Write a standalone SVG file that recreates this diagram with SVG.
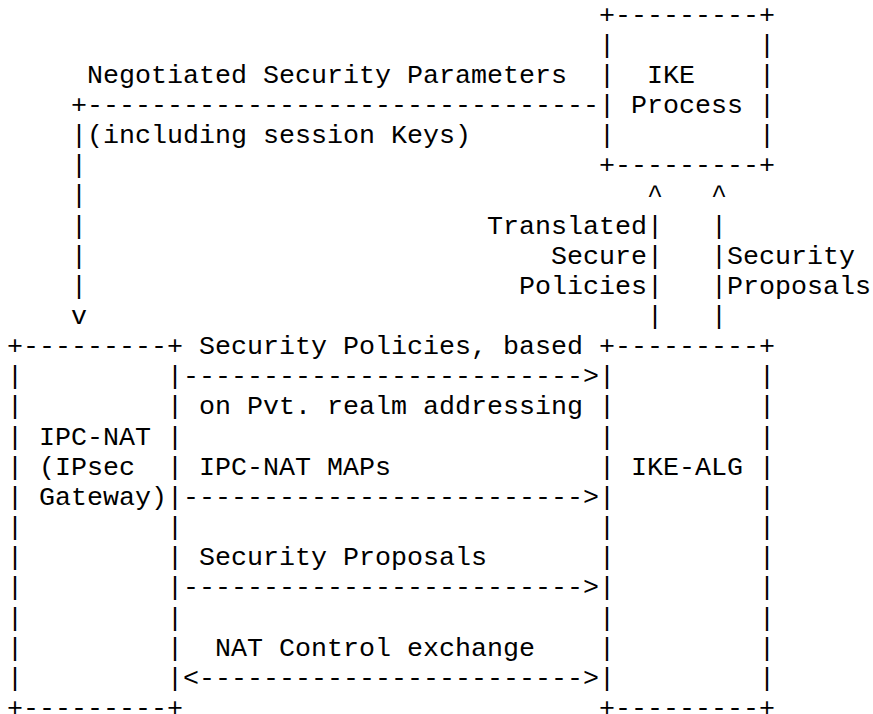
<svg xmlns="http://www.w3.org/2000/svg" width="873" height="714" viewBox="0 0 873 714" xml:space="preserve">
<style>
text { font-family: "Liberation Mono", "Courier New", monospace; font-size: 26.67px; fill: #000; white-space: pre; }
</style>
<rect width="873" height="714" fill="#fff"/>
<g id="ike-process">
<text x="599" y="22.5">+---------+</text>
<text x="599" y="52.65">|</text><text x="759" y="52.65">|</text>
<text x="599" y="82.8">|</text><text x="647" y="82.8">IKE</text><text x="759" y="82.8">|</text>
<text x="599" y="112.95">|</text><text x="631" y="112.95">Process</text><text x="759" y="112.95">|</text>
<text x="599" y="143.1">|</text><text x="759" y="143.1">|</text>
<text x="599" y="173.25">+---------+</text>
</g>
<g id="ipc-nat">
<text x="7" y="354.15">+---------+</text>
<text x="7" y="384.3">|</text><text x="167" y="384.3">|</text>
<text x="7" y="414.45">|</text><text x="167" y="414.45">|</text>
<text x="7" y="444.6">|</text><text x="39" y="444.6">IPC-NAT</text><text x="167" y="444.6">|</text>
<text x="7" y="474.75">|</text><text x="39" y="474.75">(IPsec</text><text x="167" y="474.75">|</text>
<text x="7" y="504.9">|</text><text x="39" y="504.9">Gateway)</text><text x="167" y="504.9">|</text>
<text x="7" y="535.05">|</text><text x="167" y="535.05">|</text>
<text x="7" y="565.2">|</text><text x="167" y="565.2">|</text>
<text x="7" y="595.35">|</text><text x="167" y="595.35">|</text>
<text x="7" y="625.5">|</text><text x="167" y="625.5">|</text>
<text x="7" y="655.65">|</text><text x="167" y="655.65">|</text>
<text x="7" y="685.8">|</text><text x="167" y="685.8">|</text>
<text x="7" y="715.95">+---------+</text>
</g>
<g id="ike-alg">
<text x="599" y="354.15">+---------+</text>
<text x="599" y="384.3">|</text><text x="759" y="384.3">|</text>
<text x="599" y="414.45">|</text><text x="759" y="414.45">|</text>
<text x="599" y="444.6">|</text><text x="759" y="444.6">|</text>
<text x="599" y="474.75">|</text><text x="631" y="474.75">IKE-ALG</text><text x="759" y="474.75">|</text>
<text x="599" y="504.9">|</text><text x="759" y="504.9">|</text>
<text x="599" y="535.05">|</text><text x="759" y="535.05">|</text>
<text x="599" y="565.2">|</text><text x="759" y="565.2">|</text>
<text x="599" y="595.35">|</text><text x="759" y="595.35">|</text>
<text x="599" y="625.5">|</text><text x="759" y="625.5">|</text>
<text x="599" y="655.65">|</text><text x="759" y="655.65">|</text>
<text x="599" y="685.8">|</text><text x="759" y="685.8">|</text>
<text x="599" y="715.95">+---------+</text>
</g>
<g id="connectors">
<g id="negotiated-params">
<text x="87" y="82.8">Negotiated Security Parameters</text>
<text x="71" y="112.95">+--------------------------------</text>
<text x="71" y="143.1">|</text><text x="87" y="143.1">(including session Keys)</text>
<text x="71" y="173.25">|</text>
<text x="71" y="203.4">|</text>
<text x="71" y="233.55">|</text>
<text x="71" y="263.7">|</text>
<text x="71" y="293.85">|</text>
<text x="71" y="324">v</text>
</g>
<g id="translated-policies">
<text x="647" y="203.4">^</text>
<text x="487" y="233.55">Translated</text><text x="647" y="233.55">|</text>
<text x="551" y="263.7">Secure</text><text x="647" y="263.7">|</text>
<text x="519" y="293.85">Policies</text><text x="647" y="293.85">|</text>
<text x="647" y="324">|</text>
</g>
<g id="security-proposals-up">
<text x="711" y="203.4">^</text>
<text x="711" y="233.55">|</text>
<text x="711" y="263.7">|</text><text x="727" y="263.7">Security</text>
<text x="711" y="293.85">|</text><text x="727" y="293.85">Proposals</text>
<text x="711" y="324">|</text>
</g>
<g id="security-policies">
<text x="199" y="354.15">Security Policies, based</text>
<text x="183" y="384.3">-------------------------&gt;</text>
<text x="199" y="414.45">on Pvt. realm addressing</text>
</g>
<g id="ipc-nat-maps">
<text x="199" y="474.75">IPC-NAT MAPs</text>
<text x="183" y="504.9">-------------------------&gt;</text>
</g>
<g id="security-proposals">
<text x="199" y="565.2">Security Proposals</text>
<text x="183" y="595.35">-------------------------&gt;</text>
</g>
<g id="nat-control">
<text x="215" y="655.65">NAT Control exchange</text>
<text x="183" y="685.8">&lt;------------------------&gt;</text>
</g>
</g>
</svg>
